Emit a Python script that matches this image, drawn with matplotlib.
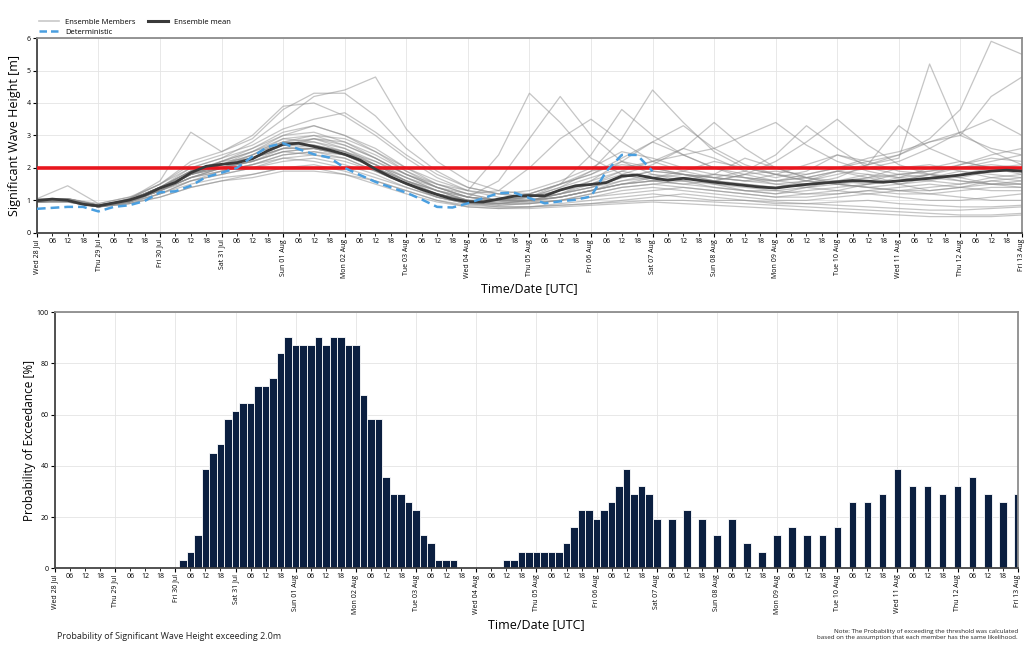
import pandas as pd
import matplotlib
matplotlib.use("Agg")
import matplotlib.pyplot as plt
import matplotlib.dates as mdates
from matplotlib.lines import Line2D

plt.rcParams["font.family"] = ["Open Sans", "DejaVu Sans"]

START = pd.Timestamp("2021-07-28 00:00")
END = pd.Timestamp("2021-08-13 00:00")
DET_END = pd.Timestamp("2021-08-07 00:00")
THRESHOLD = 2.0

# ---- ensemble members, Hs [m], 12-hourly from Wed 28 Jul 00 UTC -------------
MEMBERS = [
    [1.0, 1.05, 0.85, 1.0, 1.4, 2.0, 2.3, 2.8, 3.5, 4.2, 4.4, 4.8, 3.2, 2.2, 1.6, 1.3, 1.2, 1.5, 1.8, 2.2, 2.0, 1.8, 1.6, 1.5, 1.4, 1.6, 1.9, 1.7, 1.5, 1.6, 1.8, 2.0, 2.1],
    [1.0, 1.0, 0.8, 1.05, 1.6, 3.1, 2.5, 2.9, 3.8, 4.3, 4.3, 3.6, 2.6, 1.9, 1.4, 1.2, 1.1, 1.3, 1.5, 1.9, 1.7, 1.6, 1.4, 1.3, 1.2, 1.4, 1.6, 1.8, 1.5, 1.3, 1.4, 1.6, 1.5],
    [1.05, 1.45, 0.9, 1.1, 1.3, 1.8, 2.1, 2.4, 2.8, 2.7, 2.5, 2.2, 1.8, 1.5, 1.3, 2.4, 4.3, 3.4, 2.3, 1.8, 1.6, 1.7, 1.5, 1.3, 1.2, 1.3, 1.4, 1.5, 1.6, 1.8, 1.7, 1.5, 1.4],
    [0.95, 1.0, 0.8, 0.95, 1.3, 1.8, 2.2, 2.3, 2.6, 2.7, 2.5, 2.0, 1.5, 1.2, 1.0, 1.0, 1.1, 1.4, 1.9, 2.9, 4.4, 3.4, 2.5, 2.0, 1.8, 1.6, 1.5, 1.6, 1.8, 1.7, 1.6, 1.5, 1.6],
    [1.0, 1.0, 0.85, 1.0, 1.4, 1.9, 2.0, 2.2, 2.6, 2.9, 2.6, 2.1, 1.6, 1.3, 1.1, 1.6, 2.9, 4.2, 3.0, 2.2, 1.8, 1.6, 1.8, 2.3, 2.0, 1.7, 1.5, 1.4, 1.3, 1.4, 1.5, 1.7, 1.8],
    [1.0, 1.0, 0.8, 0.95, 1.3, 1.7, 2.0, 2.2, 2.5, 2.4, 2.3, 1.9, 1.5, 1.1, 0.9, 0.9, 1.0, 1.1, 1.3, 1.5, 1.6, 1.5, 1.6, 1.8, 1.9, 1.8, 2.0, 2.2, 2.4, 2.9, 3.8, 5.9, 5.5],
    [1.0, 1.05, 0.85, 1.0, 1.35, 1.8, 2.1, 2.4, 2.9, 3.0, 2.7, 2.3, 1.8, 1.4, 1.1, 1.0, 1.1, 1.3, 1.6, 1.9, 2.2, 2.6, 2.3, 1.9, 1.7, 1.9, 2.4, 2.1, 2.3, 5.2, 3.0, 2.6, 2.4],
    [0.95, 1.0, 0.8, 1.0, 1.4, 1.9, 2.2, 2.5, 3.0, 3.3, 3.0, 2.6, 2.0, 1.6, 1.3, 1.2, 1.3, 1.6, 2.0, 2.5, 2.3, 2.0, 1.8, 1.7, 1.6, 1.8, 2.0, 2.3, 2.5, 2.8, 3.0, 4.2, 4.8],
    [0.95, 0.95, 0.8, 0.9, 1.1, 1.4, 1.6, 1.7, 1.9, 1.9, 1.8, 1.6, 1.3, 1.0, 0.85, 0.8, 0.8, 0.85, 0.9, 0.95, 1.0, 1.0, 0.95, 0.9, 0.85, 0.8, 0.75, 0.7, 0.65, 0.6, 0.55, 0.55, 0.6],
    [1.0, 1.0, 0.8, 1.05, 1.5, 2.2, 2.5, 3.0, 3.9, 4.0, 3.6, 3.0, 2.3, 1.7, 1.3, 1.1, 1.0, 1.2, 1.4, 1.7, 1.9, 1.8, 1.7, 1.6, 1.8, 2.1, 2.4, 2.2, 1.9, 1.8, 1.7, 1.9, 2.0],
    [1.05, 1.05, 0.9, 1.1, 1.5, 2.0, 2.3, 2.6, 3.1, 3.3, 3.0, 2.5, 1.9, 1.4, 1.1, 1.0, 1.2, 1.5, 1.8, 2.3, 2.8, 2.4, 2.0, 1.7, 1.5, 1.4, 1.3, 1.5, 1.7, 2.0, 2.2, 2.0, 1.8],
    [1.0, 1.0, 0.85, 0.95, 1.3, 1.7, 1.9, 2.1, 2.4, 2.5, 2.3, 1.9, 1.5, 1.2, 1.0, 0.9, 0.9, 1.0, 1.2, 1.4, 1.5, 1.4, 1.3, 1.2, 1.1, 1.2, 1.3, 1.2, 1.1, 1.0, 1.0, 1.1, 1.2],
    [1.0, 1.0, 0.85, 1.0, 1.4, 1.9, 2.1, 2.3, 2.7, 2.8, 2.6, 2.2, 1.7, 1.3, 1.0, 0.95, 1.0, 1.2, 1.6, 2.2, 2.8, 3.3, 2.6, 2.1, 1.8, 1.6, 1.5, 1.7, 2.0, 2.1, 1.9, 1.7, 1.6],
    [0.95, 1.0, 0.8, 0.95, 1.3, 1.8, 2.0, 2.3, 2.7, 2.9, 2.8, 2.4, 1.9, 1.5, 1.2, 1.0, 1.0, 1.1, 1.3, 1.6, 1.8, 1.7, 1.6, 1.8, 2.2, 2.8, 3.5, 2.7, 2.1, 1.8, 1.6, 1.5, 1.5],
    [1.0, 1.05, 0.85, 1.0, 1.3, 1.6, 1.9, 2.1, 2.3, 2.2, 2.0, 1.7, 1.4, 1.1, 0.9, 0.85, 0.9, 1.0, 1.1, 1.3, 1.4, 1.3, 1.2, 1.1, 1.0, 1.0, 1.1, 1.2, 1.3, 1.2, 1.1, 1.0, 1.0],
    [1.0, 1.0, 0.8, 1.0, 1.4, 1.8, 2.1, 2.5, 2.9, 2.8, 2.5, 2.1, 1.6, 1.3, 1.0, 1.0, 1.2, 1.5, 1.9, 2.1, 2.0, 1.8, 1.7, 1.9, 2.4, 3.3, 2.6, 2.0, 1.8, 1.9, 2.1, 2.3, 2.2],
    [0.95, 0.95, 0.8, 0.9, 1.2, 1.5, 1.7, 1.8, 2.0, 2.1, 1.9, 1.6, 1.3, 1.0, 0.8, 0.75, 0.8, 0.9, 1.0, 1.1, 1.2, 1.1, 1.0, 1.0, 0.9, 0.9, 0.95, 1.0, 0.9, 0.85, 0.8, 0.8, 0.85],
    [1.0, 1.0, 0.85, 1.0, 1.4, 1.8, 2.2, 2.6, 3.0, 3.1, 2.8, 2.3, 1.8, 1.4, 1.1, 1.0, 1.1, 1.5, 2.4, 3.8, 3.0, 2.4, 2.0, 1.8, 1.6, 1.5, 1.6, 1.7, 1.8, 1.9, 2.0, 2.1, 2.0],
    [1.05, 1.05, 0.85, 1.05, 1.5, 2.1, 2.4, 2.7, 3.2, 3.5, 3.7, 3.1, 2.4, 1.8, 1.4, 1.2, 1.1, 1.2, 1.4, 1.6, 1.7, 1.9, 2.2, 2.0, 1.8, 1.7, 1.6, 1.5, 1.6, 1.8, 2.1, 2.4, 2.6],
    [1.0, 1.0, 0.8, 1.0, 1.3, 1.7, 2.0, 2.2, 2.5, 2.6, 2.4, 2.0, 1.6, 1.2, 1.0, 0.9, 1.0, 1.2, 1.5, 1.8, 2.1, 2.6, 3.4, 2.6, 2.0, 1.7, 1.5, 1.4, 1.5, 1.7, 1.9, 1.8, 1.7],
    [1.0, 1.0, 0.85, 1.0, 1.4, 1.9, 2.1, 2.3, 2.6, 2.6, 2.4, 2.0, 1.5, 1.1, 0.9, 0.9, 1.0, 1.1, 1.3, 1.5, 1.6, 1.5, 1.4, 1.3, 1.3, 1.4, 1.5, 1.4, 1.3, 1.3, 1.4, 1.5, 1.5],
    [0.95, 1.0, 0.8, 0.95, 1.3, 1.7, 2.0, 2.3, 2.7, 2.7, 2.5, 2.1, 1.7, 1.3, 1.0, 0.9, 0.95, 1.1, 1.3, 1.5, 1.7, 1.8, 1.6, 1.5, 1.4, 1.5, 1.7, 2.1, 3.3, 2.6, 2.2, 2.0, 1.9],
    [1.0, 1.05, 0.85, 1.0, 1.4, 1.8, 2.0, 2.4, 2.8, 3.0, 2.9, 2.5, 2.0, 1.5, 1.2, 1.0, 0.95, 1.0, 1.1, 1.2, 1.3, 1.4, 1.3, 1.2, 1.1, 1.1, 1.2, 1.3, 1.2, 1.2, 1.3, 1.4, 1.4],
    [1.0, 1.0, 0.8, 1.0, 1.4, 1.9, 2.2, 2.5, 2.8, 2.9, 2.7, 2.3, 1.8, 1.4, 1.1, 1.0, 1.0, 1.2, 1.4, 1.7, 1.9, 1.8, 1.7, 1.6, 1.5, 1.6, 1.8, 2.0, 2.2, 2.6, 3.1, 3.5, 3.0],
    [1.0, 1.0, 0.85, 0.95, 1.2, 1.6, 1.8, 2.0, 2.2, 2.3, 2.1, 1.8, 1.4, 1.1, 0.9, 0.8, 0.8, 0.85, 0.9, 1.0, 1.1, 1.2, 1.1, 1.0, 0.95, 0.9, 0.85, 0.8, 0.75, 0.7, 0.7, 0.75, 0.8],
    [1.0, 1.0, 0.85, 1.0, 1.4, 1.8, 2.1, 2.3, 2.6, 2.6, 2.4, 2.0, 1.6, 1.2, 1.0, 0.95, 1.1, 1.4, 1.7, 2.0, 2.2, 2.4, 2.6, 3.0, 3.4, 2.7, 2.2, 1.9, 1.7, 1.6, 1.5, 1.6, 1.7],
    [1.0, 1.0, 0.8, 1.0, 1.3, 1.7, 1.9, 2.1, 2.4, 2.5, 2.4, 2.1, 1.7, 1.4, 1.2, 1.3, 2.0, 2.9, 3.5, 2.8, 2.2, 1.9, 1.7, 1.6, 1.6, 1.7, 1.9, 1.8, 1.7, 1.8, 2.0, 2.2, 2.4],
    [0.95, 1.0, 0.8, 0.95, 1.2, 1.6, 1.8, 2.0, 2.3, 2.4, 2.2, 1.9, 1.5, 1.2, 0.95, 0.85, 0.9, 1.0, 1.2, 1.4, 1.5, 1.6, 1.5, 1.4, 1.3, 1.2, 1.2, 1.3, 1.4, 1.5, 1.4, 1.3, 1.3],
    [1.0, 1.0, 0.85, 1.0, 1.4, 1.8, 2.0, 2.2, 2.5, 2.6, 2.4, 2.0, 1.6, 1.3, 1.1, 1.0, 1.0, 1.1, 1.3, 1.5, 1.6, 1.7, 1.8, 1.7, 1.6, 1.7, 1.9, 2.1, 2.4, 2.8, 3.1, 2.5, 2.1],
    [0.95, 0.95, 0.8, 0.9, 1.1, 1.4, 1.6, 1.8, 2.0, 2.0, 1.8, 1.5, 1.2, 0.95, 0.8, 0.75, 0.75, 0.8, 0.85, 0.9, 0.95, 0.9, 0.85, 0.8, 0.75, 0.7, 0.65, 0.6, 0.55, 0.5, 0.5, 0.5, 0.55],
]

# ensemble mean, 6-hourly
ENS_MEAN = [
    0.99, 1.04, 1.00, 0.88, 0.83, 0.92, 1.01, 1.16, 1.38, 1.55, 1.85, 2.05, 2.11,
    2.16, 2.28, 2.53, 2.73, 2.76, 2.66, 2.55, 2.42, 2.24, 1.96, 1.72, 1.52, 1.34,
    1.18, 1.04, 0.96, 0.95, 1.04, 1.13, 1.15, 1.14, 1.32, 1.45, 1.49, 1.55, 1.75,
    1.78, 1.69, 1.62, 1.68, 1.62, 1.56, 1.51, 1.46, 1.41, 1.38, 1.44, 1.49, 1.53,
    1.57, 1.61, 1.59, 1.56, 1.60, 1.64, 1.68, 1.73, 1.78, 1.85, 1.90, 1.93, 1.90,
]

# deterministic run, 6-hourly up to Sat 07 Aug 00 UTC
DETERMINISTIC = [
    0.74, 0.77, 0.80, 0.80, 0.66, 0.80, 0.85, 0.98, 1.25, 1.28, 1.45, 1.72, 1.85,
    2.00, 2.35, 2.65, 2.76, 2.58, 2.42, 2.32, 2.00, 1.78, 1.57, 1.40, 1.24, 1.03,
    0.80, 0.78, 0.91, 1.07, 1.22, 1.24, 1.07, 0.91, 0.97, 1.02, 1.12, 1.90, 2.40,
    2.40, 1.90,
]

# probability of exceeding the threshold [%]: 3-hourly to Sat 07 Aug, 6-hourly after
PROB_3H = (
    [0.0] * 17
    + [3.2, 6.5, 12.9, 38.7, 45.2, 48.4, 58.1, 61.3, 64.5, 64.5, 71.0, 71.0, 74.2,
       83.9, 90.3, 87.1, 87.1, 87.1, 90.3, 87.1, 90.3, 90.3, 87.1, 87.1, 67.7, 58.1,
       58.1, 35.5, 29.0, 29.0, 25.8, 22.6, 12.9, 9.7, 3.2, 3.2, 3.2]
    + [0.0] * 6
    + [3.2, 3.2, 6.5, 6.5, 6.5, 6.5, 6.5, 6.5, 9.7, 16.1, 22.6, 22.6, 19.4, 22.6,
       25.8, 32.3, 38.7, 29.0, 32.3, 29.0, 19.4]
)
PROB_6H = [19.4, 22.6, 19.4, 12.9, 19.4, 9.7, 6.5, 12.9, 16.1, 12.9, 12.9, 16.1,
           25.8, 25.8, 29.0, 38.7, 32.3, 32.3, 29.0, 32.3, 35.5, 29.0, 25.8, 29.0]

member_t = pd.date_range(START, END, freq="12h")
mean_t = pd.date_range(START, END, freq="6h")
det_t = pd.date_range(START, DET_END, freq="6h")
p3_t = pd.date_range(START, DET_END, freq="3h")
p6_t = pd.date_range(DET_END + pd.Timedelta(hours=6), END, freq="6h")

MEMBER_C = "#8c8c8c"
MEAN_C = "#3a3a3a"
DET_C = "#4a9fe0"
BAR_C = "#0b1f40"


def time_axis(ax):
    ax.set_xlim(START, END)
    ax.xaxis.set_major_locator(mdates.DayLocator())
    ax.xaxis.set_major_formatter(mdates.DateFormatter("%a %d %b"))
    ax.xaxis.set_minor_locator(mdates.HourLocator(byhour=[6, 12, 18]))
    ax.xaxis.set_minor_formatter(mdates.DateFormatter("%H"))
    ax.tick_params(axis="x", which="major", labelsize=5, labelrotation=90, length=3, pad=1.5)
    ax.tick_params(axis="x", which="minor", labelsize=5, length=2, pad=1.5)
    ax.tick_params(axis="y", labelsize=5, length=3, pad=1.5)
    ax.grid(True, which="major", color="#e4e4e4", lw=0.6)
    ax.set_axisbelow(True)
    for s in ax.spines.values():
        s.set_color("#8c8c8c")
        s.set_linewidth(1.3)
    ax.spines["left"].set_color("#444444")
    ax.spines["bottom"].set_color("#444444")


fig = plt.figure(figsize=(10.24, 6.45), dpi=100)

# ---- top: spaghetti plot ----------------------------------------------------
ax1 = fig.add_axes([0.036, 0.639, 0.962, 0.302])
for m in MEMBERS:
    ax1.plot(member_t, m, color=MEMBER_C, lw=0.9, alpha=0.5, zorder=2)
ax1.axhline(THRESHOLD, color="#e8161e", lw=2.6, zorder=3)
ax1.plot(mean_t, ENS_MEAN, color=MEAN_C, lw=2.0, zorder=4)
ax1.plot(det_t, DETERMINISTIC, color=DET_C, lw=1.8, ls=(0, (3.5, 2)), zorder=5)
ax1.set_ylim(0, 6)
ax1.set_yticks(range(0, 7))
time_axis(ax1)
ax1.set_ylabel("Significant Wave Height [m]", fontsize=9)
ax1.yaxis.set_label_coords(-0.016, 0.5)
ax1.set_xlabel("Time/Date [UTC]", fontsize=9, labelpad=3)

handles = [
    Line2D([], [], color="#c8c8c8", lw=1.2),
    Line2D([], [], color=DET_C, lw=1.8, ls=(0, (3, 1.6))),
    Line2D([], [], color=MEAN_C, lw=2.2),
]
ax1.legend(handles, ["Ensemble Members", "Deterministic", "Ensemble mean"],
           loc="lower left", bbox_to_anchor=(0.0, 1.0), ncol=2, frameon=False,
           fontsize=5.5, handlelength=2.6, columnspacing=1.6, labelspacing=0.35,
           borderaxespad=0.2, borderpad=0.1)

# ---- bottom: probability of exceedance --------------------------------------
ax2 = fig.add_axes([0.0537, 0.119, 0.9403, 0.397])
w = pd.Timedelta(hours=3)
ax2.bar(p3_t, PROB_3H, width=w, color=BAR_C, edgecolor="white", lw=0.6, zorder=2)
ax2.bar(p6_t, PROB_6H, width=w, color=BAR_C, edgecolor="white", lw=0.6, zorder=2)
ax2.set_ylim(0, 100)
ax2.set_yticks(range(0, 101, 20))
time_axis(ax2)
ax2.set_ylabel("Probability of Exceedance [%]", fontsize=8.5)
ax2.yaxis.set_label_coords(-0.02, 0.5)
ax2.set_xlabel("Time/Date [UTC]", fontsize=9, labelpad=3)

fig.text(0.056, 0.0095, "Probability of Significant Wave Height exceeding 2.0m",
         fontsize=6.5, color="#222222")
fig.text(0.994, 0.009,
         "Note: The Probability of exceeding the threshold was calculated\n"
         "based on the assumption that each member has the same likelihood.",
         fontsize=4.5, ha="right", color="#222222", linespacing=1.3)

fig.savefig("out.png", dpi=100)
